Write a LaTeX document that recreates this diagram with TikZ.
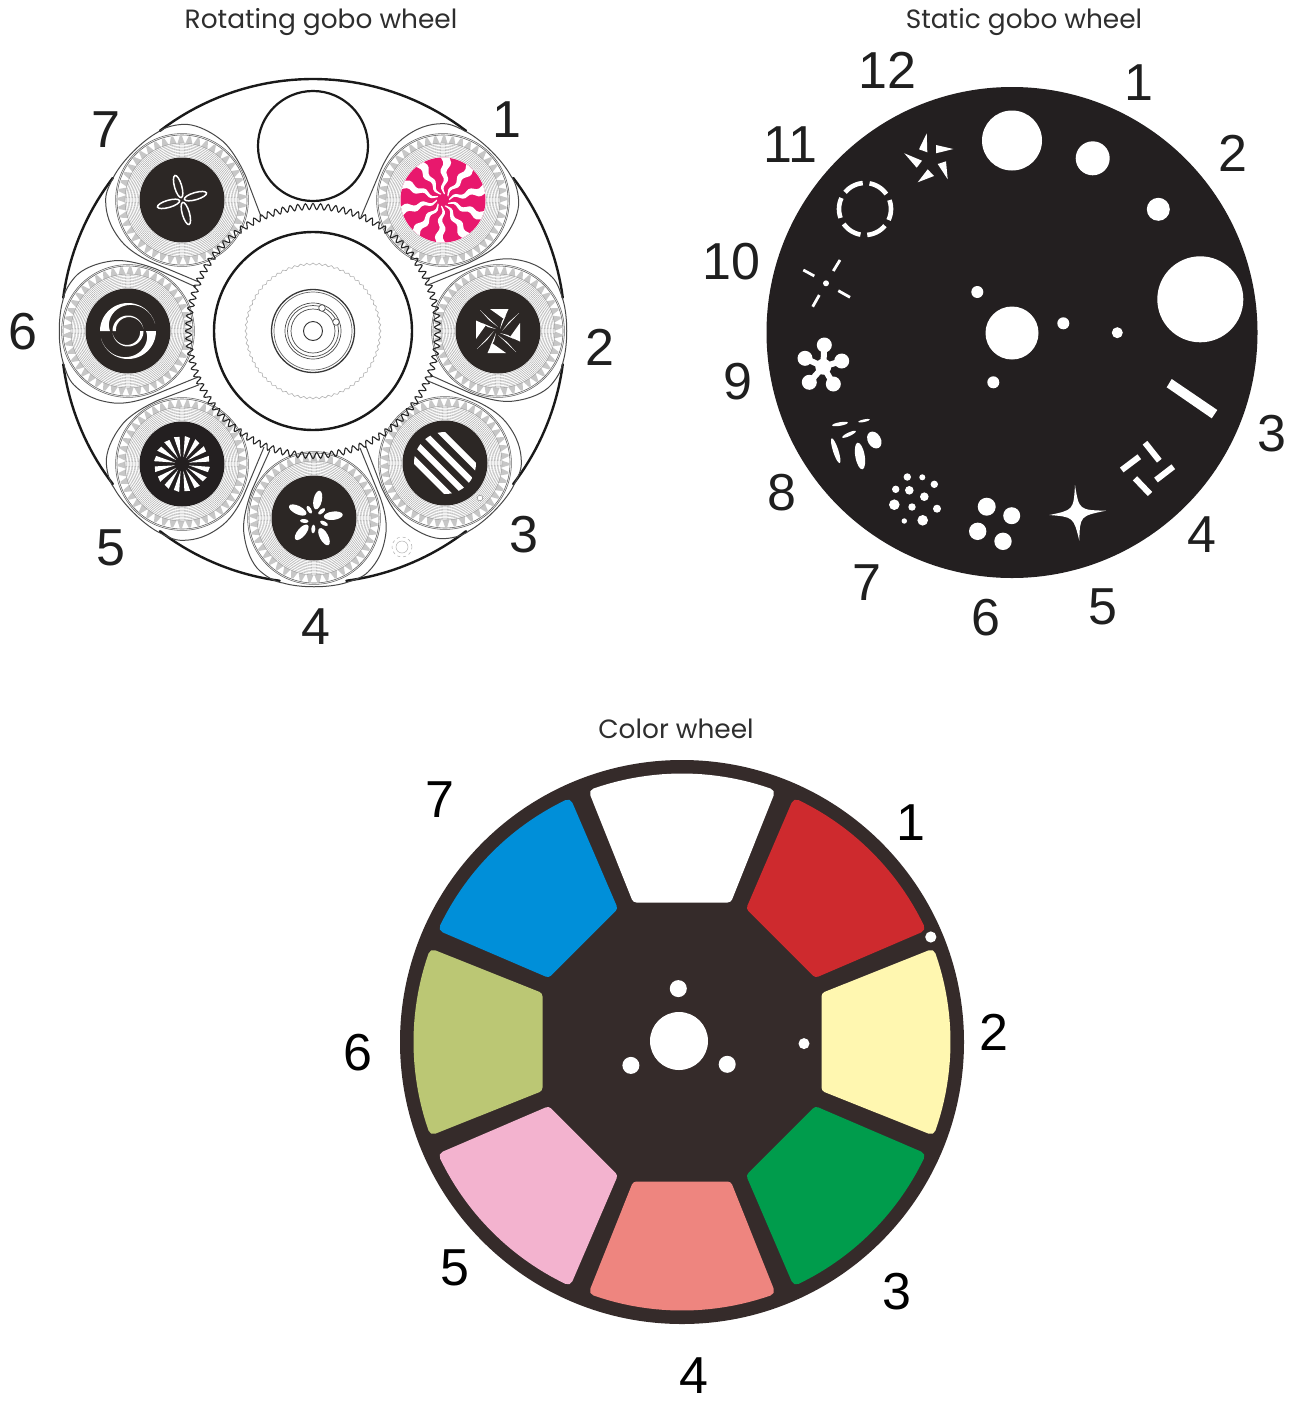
\documentclass[tikz,border=0pt]{standalone}
\usepackage{fontspec}
\setmainfont{Liberation Sans}
\newfontfamily\titlefont{Poppins}
\definecolor{gobodark}{HTML}{2C2725}
\definecolor{statdark}{HTML}{231F20}
\definecolor{colordark}{HTML}{352B2A}
\definecolor{magentagobo}{HTML}{E8186D}
\definecolor{colRed}{HTML}{CE2A2E}
\definecolor{colYellow}{HTML}{FFF7B0}
\definecolor{colGreen}{HTML}{009C4C}
\definecolor{colSalmon}{HTML}{EE857F}
\definecolor{colPink}{HTML}{F3B3CF}
\definecolor{colOlive}{HTML}{BBC774}
\definecolor{colBlue}{HTML}{008FD9}
\tikzset{
  numlabel/.style={font=\fontsize{52}{52}\selectfont, text=black!88, inner sep=0pt},
  collabel/.style={font=\fontsize{52}{52}\selectfont, text=black, inner sep=0pt},
  titlelabel/.style={font=\titlefont\fontsize{26.4}{28}\selectfont, text=black!82, inner sep=0pt},
  rimline/.style={draw=black!90, line width=2.4pt, line cap=round},
  housing/.style={draw=black!72, line width=1pt},
  teeth/.style={fill=black!22},
  finering/.style={draw=black!42, line width=0.3pt},
  gearring/.style={draw=black!60, line width=0.6pt},
  hole/.style={fill=white},
  bar/.style={draw=white, line cap=butt},
  segment/.style={line width=10pt, line join=round},
}
\newcommand{\goboDisc}[1]{\fill[#1] (0,0) circle[radius=42.5pt];}
\newcommand{\petal}[5]{\fill[white, shift={(#1,#2)}, rotate=#5] (0,0) ellipse[x radius=#3pt, y radius=#4pt];}
\newcommand{\wheelseg}[2]{%
  \filldraw[draw=#2, fill=#2, rotate=#1, segment] (-45.5,-144.5) -- plot[domain=-19.3:19.3, samples=24] ({263.5*sin(\x)},{-263.5*cos(\x)}) -- (45.5,-144.5) -- cycle;}
\begin{document}
\begin{tikzpicture}[x=1pt, y=-1pt]
\useasboundingbox (0,0) rectangle (1295,1403);
\fill[white] (0,0) rectangle (1295,1403);

%% ======= ROTATING WHEEL =======
\draw[rimline] plot[domain=-37.4:37.4, samples=40] ({313+252*sin(\x)},{331-252*cos(\x)});
\foreach \a in {45,90,135,180,225,270} {
  \draw[rimline] plot[domain=\a+7.6:\a+37.4, samples=20] ({313+252*sin(\x)},{331-252*cos(\x)});
}
\draw[black!90, line width=2.2pt] (313,146) circle[radius=55pt];

% housings
\foreach \p/\cx/\cy in {1/443/200,2/498/331,3/445/463,4/314/518,5/182/464,6/128/331,7/182/200} {
  \begin{scope}[shift={(\cx,\cy)}, rotate=-45*\p]
    \draw[housing] (44,68) -- (62,28)
      .. controls (68,12) and (72,-6) .. (70,-16)
      .. controls (68,-32) and (62,-46) .. (54,-53)
      .. controls (46,-60) and (38,-64) .. (31,-65)
      .. controls (14,-70) and (-14,-70) .. (-31,-65)
      .. controls (-40,-62) and (-48,-60) .. (-54,-54)
      .. controls (-64,-44) and (-70,-32) .. (-72,-14)
      .. controls (-73,-2) and (-70,10) .. (-66,21)
      -- (-46,70);
    \fill[white] (0,0) circle[radius=66.8pt];
    \foreach \t in {0,...,45} {
      \fill[teeth, rotate=\t*8+4] (-3.6,-56.5) -- (-1.1,-64) -- (1.1,-64) -- (3.6,-56.5) -- cycle;
    }
    \foreach \r in {43.5,45,46.5,48,49.5,51,52.5,54,55.5,57} {
      \draw[finering] (0,0) circle[radius=\r pt];
    }
    \draw[gearring] (0,0) circle[radius=66.4pt];
    \draw[gearring] (0,0) circle[radius=65pt];
  \end{scope}
}

% gobo 1: magenta
\begin{scope}[shift={(443,200)}]
  \goboDisc{magentagobo}
  \begin{scope}
    \clip (0,0) circle[radius=42.5pt];
    \foreach \k in {0,...,9} {
      \begin{scope}[rotate=\k*36+14]
        \fill[white] plot[smooth, domain=6:46, samples=16] ({\x},{\x*0.105+1.6*sin(\x*22)})
          -- plot[smooth, domain=46:6, samples=16] ({\x},{-\x*0.105+1.6*sin(\x*22)}) -- cycle;
      \end{scope}
    }
  \end{scope}
\end{scope}

% gobo 2: crossed blades
\begin{scope}[shift={(498,331)}]
  \goboDisc{gobodark}
  \fill[white] (-8,-22) -- (10.5,-22) -- (6,-12) -- cycle;
  \fill[white] (22,-8) -- (22,10.5) -- (12,6) -- cycle;
  \fill[white] (-10.5,22) -- (8,22) -- (-6,12) -- cycle;
  \fill[white] (-22,-10.5) -- (-22,8) -- (-12,-6) -- cycle;
  \foreach \a in {0,90,180,270} {
    \fill[white, rotate=\a] (-18,-21) -- (0,-4) -- (-9,-11) -- cycle;
    \fill[white, rotate=\a] (-16,-8) -- (-2,-2) -- (-10,-4) -- cycle;
  }
\end{scope}

% gobo 3: stripes
\begin{scope}[shift={(445,463)}]
  \goboDisc{gobodark}
  \begin{scope}
    \clip (0,0) circle[radius=31pt];
    \foreach \d in {19,6,-7,-19.5} {
      \fill[white, rotate=-45] (-40,{-\d-3}) rectangle (40,{-\d+3});
    }
  \end{scope}
  \fill[white, draw=black!50, line width=0.4pt] (35,35) circle[radius=2.8pt];
\end{scope}
\draw[black!30, line width=0.5pt, dashed] (402,547) circle[radius=10pt];
\draw[black!30, line width=0.5pt] (402,547) circle[radius=6pt];

% gobo 4: flower
\begin{scope}[shift={(314,518)}]
  \goboDisc{gobodark}
  \petal{3.7}{-18}{9.5}{4.2}{78}
  \petal{-16.3}{-8}{9.5}{4.2}{154}
  \petal{19.3}{-2.3}{9.5}{4.2}{7}
  \petal{10}{18.7}{9.5}{4.2}{-62}
  \petal{-12.3}{14.3}{9.5}{4.2}{50}
  \petal{-4.7}{-8.3}{4.3}{2}{120}
  \petal{7.7}{-6.7}{4.3}{2}{41}
  \petal{10}{5.3}{4.3}{2}{-28}
  \petal{-0.7}{11}{4.3}{2}{-94}
  \petal{-9.7}{3}{4.3}{2}{-5}
\end{scope}

% gobo 5: sunburst
\begin{scope}[shift={(182,464)}]
  \goboDisc{statdark}
  \foreach \k in {0,...,15} {
    \fill[white, rotate=\k*22.5+11] (7,0) -- (28,-2.8) -- (27,2.8) -- cycle;
  }
\end{scope}

% gobo 6: crescents
\begin{scope}[shift={(128,331)}]
  \goboDisc{gobodark}
  \foreach \a in {0,180} {
    \begin{scope}[rotate=\a]
      \fill[white] plot[domain=180:15, samples=40] ({28*cos(\x)},{-28*sin(\x)})
        -- plot[domain=15:180, samples=40] ({(28-10*((\x-15)/165)*((\x-15)/165))*cos(\x)},{-(28-10*((\x-15)/165)*((\x-15)/165))*sin(\x)}) -- cycle;
      \fill[white] plot[domain=180:10, samples=40] ({15.5*cos(\x)},{-15.5*sin(\x)})
        -- plot[domain=10:180, samples=40] ({(15.5-3.5*((\x-10)/170))*cos(\x)},{-(15.5-3.5*((\x-10)/170))*sin(\x)}) -- cycle;
    \end{scope}
  }
\end{scope}

% gobo 7: four leaves
\begin{scope}[shift={(182,200)}]
  \goboDisc{gobodark}
  \foreach \a in {16,106,196,286} {
    \draw[white, line width=1.5pt, rotate=\a] (14,0) ellipse[x radius=11.5pt, y radius=3.6pt];
  }
\end{scope}

% central gear
\draw[black!85, line width=1.1pt] plot[smooth, domain=0:832, samples=833]
  ({313+(124.5+3*cos(45*mod(\x,8)))*cos(\x/832*360)},{331+(124.5+3*cos(45*mod(\x,8)))*sin(\x/832*360)});
\draw[black!90, line width=2.4pt] (313,331) circle[radius=99pt];
\draw[black!30, line width=0.6pt] plot[smooth, domain=0:272, samples=273]
  ({313+(67+1*cos(90*mod(\x,4)))*cos(\x/272*360)},{331+(67+1*cos(90*mod(\x,4)))*sin(\x/272*360)});
\draw[black!78, line width=1.3pt] (313,331) circle[radius=41.5pt];
\draw[black!60, line width=0.7pt] (313,331) circle[radius=39pt];
\draw[black!70, line width=0.7pt] (313,331) circle[radius=28pt];
\draw[black!70, line width=0.7pt] (313,331) circle[radius=25.5pt];
\draw[black!70, line width=0.7pt] (313,331) circle[radius=22pt];
\draw[black!80, line width=0.9pt] (313,331) circle[radius=9.5pt];
\filldraw[fill=white, draw=black!70, line width=0.7pt] (322,308) circle[radius=3.3pt];
\filldraw[fill=white, draw=black!70, line width=0.7pt] (336,322) circle[radius=3.3pt];

%% ======= STATIC WHEEL =======
\fill[statdark] (1012,332.5) circle[radius=245.5pt];
\foreach \x/\y/\r in {1012/140.5/30, 1092.7/158.3/17, 1158.3/209.3/11.5, 1200.3/299.3/43,
   1012/333/26.5, 1063.3/323.3/6, 1117.3/332.7/5.5, 977.3/292/6, 993.3/382.3/6,
   826/283.3/3,
   907.3/477/3.7, 922.3/477.3/3, 934.3/484.3/3.7, 895.7/489.3/3.7, 909.3/490.3/4.3,
   924.3/496.7/4.3, 894.3/504.7/5.3, 912/507/3.7, 937/508.7/4, 904.3/521/2.7, 922.7/520.3/5.3,
   986.7/506.7/9, 1011.7/515.7/8.5, 977.7/531.3/8.7, 1003/541.3/8.7} {
  \fill[hole] (\x,\y) circle[radius=\r pt];
}
% slot 3
\fill[hole] (1171.7,379) -- (1166.7,387.3) -- (1211.7,418.3) -- (1217.3,410) -- cycle;
% gobo 4 bars
\foreach \a/\b/\c/\d in {1145/442.7/1159.3/460.7, 1121.7/470/1139.3/456.7, 1135/478.3/1150/494, 1156/480/1173.3/466.7} {
  \draw[bar, line width=6pt] (\a,\b) -- (\c,\d);
}
% star 5
\fill[hole] (1075,485) .. controls (1079,510) .. (1106,510.7)
   .. controls (1080,516) .. (1079.3,540.7)
   .. controls (1073.5,517) .. (1049.3,515)
   .. controls (1073.5,510) .. (1075,485) -- cycle;
% gobo 8 slivers
\petal{840}{424}{8}{1.8}{10}
\petal{864}{420.7}{6}{1.3}{12}
\petal{849}{434.3}{7.5}{1.8}{25}
\petal{874.3}{440}{9}{6.5}{-60}
\petal{860}{456}{13.5}{4.7}{-80}
\petal{835.7}{450.7}{13}{2.7}{-72}
% gobo 9 flower
\foreach \x/\y in {824.3/345, 805/358.3, 841.7/361, 809.3/382.3, 833.3/384} {
  \fill[hole] (\x,\y) circle[radius=7.5pt];
  \draw[bar, line width=6pt] (\x,\y) -- (823.3,366.7);
}
\fill[hole] (823.3,366.7) circle[radius=8pt];
% gobo 10 bars
\foreach \a/\b/\c/\d in {803.3/270/814.3/276, 833.3/271/840/260, 838.3/290.7/850/297.3, 812.7/306.7/819.3/295} {
  \draw[bar, line width=2.8pt] (\a,\b) -- (\c,\d);
}
% gobo 11 dashed ring: six arcs
\foreach \k in {0,...,5} {
  \draw[bar, line width=4.6pt] plot[domain={\k*60-25}:{\k*60+20}, samples=10] ({865+26*cos(\x)},{209-26*sin(\x)});
}
% gobo 12 pinwheel
\fill[hole] (926.7,133.3) -- (919,149.3) -- (927.3,152.3) -- cycle;
\fill[hole] (936,145) -- (953.3,149) -- (936,153.3) -- cycle;
\fill[hole] (947.7,179.3) -- (937.7,164) -- (946,161.3) -- cycle;
\fill[hole] (917.7,182.3) -- (927.7,169.3) -- (934,176) -- cycle;
\fill[hole] (904.3,153.3) -- (922,160.7) -- (916.7,167.7) -- cycle;

%% ======= COLOR WHEEL =======
\fill[colordark] (682,1042) circle[radius=282pt];
\begin{scope}[shift={(682,1042)}]
  \wheelseg{0}{white}
  \wheelseg{-45}{colRed}
  \wheelseg{-90}{colYellow}
  \wheelseg{-135}{colGreen}
  \wheelseg{180}{colSalmon}
  \wheelseg{135}{colPink}
  \wheelseg{90}{colOlive}
  \wheelseg{45}{colBlue}
\end{scope}
\foreach \x/\y/\r in {930.8/937/5.6, 804/1043.6/5.5, 678.3/988.6/8.5, 630.9/1065.4/8.5, 727.2/1064.3/8.5, 679/1041/29} {
  \fill[hole] (\x,\y) circle[radius=\r pt];
}

%% ======= LABELS =======
\node[titlelabel] (titleA) at (321,22) {Rotating gobo wheel};
\node[titlelabel] (titleB) at (1024,22) {Static gobo wheel};
\node[titlelabel] (titleC) at (676,729) {Color wheel};
\foreach \n/\t/\x/\y in {ra1/1/507/120, ra2/2/600/347, ra3/3/524/535, ra4/4/316/627, ra5/5/110.5/548, ra6/6/22.5/332, ra7/7/106/130,
  sa1/1/1139/83, sa2/2/1233/153, sa3/3/1272/434, sa4/4/1202/535, sa5/5/1103/607, sa6/6/985.5/618, sa7/7/866.5/583, sa8/8/782/493, sa9/9/738/382, sa10/10/731/262, sa11/11/790.5/145, sa12/12/887.5/70} {
  \node[numlabel] (\n) at (\x,\y) {\t};
}
\foreach \n/\t/\x/\y in {ca1/1/911/823, ca2/2/994/1032, ca3/3/896.5/1292, ca4/4/693.5/1376, ca5/5/454.5/1268, ca6/6/357.5/1053, ca7/7/440/800} {
  \node[collabel] (\n) at (\x,\y) {\t};
}
\end{tikzpicture}
\end{document}
